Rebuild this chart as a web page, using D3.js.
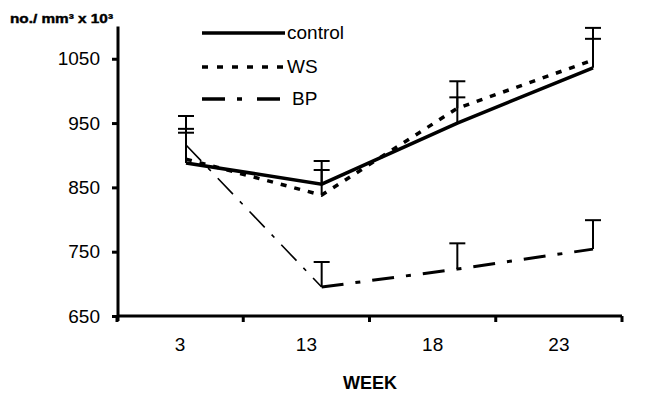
<!DOCTYPE html>
<html><head><meta charset="utf-8">
<script src="https://cdn.jsdelivr.net/npm/d3@7"></script>
<style>body{margin:0;background:#fff}svg{display:block}text{font-family:Arial,"Liberation Sans",sans-serif}</style>
</head><body>
<svg id="c" width="659" height="395"></svg>
<script>
const weeks = ["3", "13", "18", "23"];
const control = [888, 855, 950, 1036];
const controlErr = [941, 891, 990, 1081];
const ws = [894, 838, 973, 1048];
const wsErr = [935, 877, 1015, 1098];
const bp = [916, 695, 723, 754];
const bpErr = [961, 734, 763, 799];
const yTicks = [650, 750, 850, 950, 1050];

const svg = d3.select("#c");
const y = d3.scaleLinear().domain([650, 1100]).range([316, 26.6]);
const xBand = d3.scaleBand().domain(weeks).range([117, 622]);
const xPt = d3.scalePoint().domain(weeks).range([186, 593]);

// y axis
const ya = svg.append("g").attr("transform", "translate(118,0)")
  .call(d3.axisLeft(y).tickValues(yTicks).tickSize(6).tickPadding(12).tickFormat(d3.format("d")));
ya.select(".domain").attr("d", `M0,${y(1100)}V${y(650)+5}`).attr("stroke", "#000").attr("stroke-width", 3);
ya.selectAll(".tick line").attr("stroke-width", 3);
ya.selectAll(".tick text").attr("font-size", 19).attr("fill", "#000").style("font-family", "Arial, 'Liberation Sans', sans-serif");

// x axis
const xa = svg.append("g").attr("transform", `translate(0,${y(650)})`)
  .call(d3.axisBottom(xBand).tickSize(0).tickPadding(22));
xa.select(".domain").attr("d", `M${xBand.range()[0]},0H${xBand.range()[1]}`).attr("stroke", "#000").attr("stroke-width", 3);
xa.selectAll(".tick text").attr("font-size", 19).attr("fill", "#000").style("font-family", "Arial, 'Liberation Sans', sans-serif");
const bounds = weeks.map(w => xBand(w)).concat([xBand.range()[1]]);
xa.selectAll(".bt").data(bounds).enter().append("line").attr("class", "bt")
  .attr("x1", d => d).attr("x2", d => d).attr("y1", 0).attr("y2", 6)
  .attr("stroke", "#000").attr("stroke-width", 3);

svg.append("text").attr("x", 370).attr("y", 389).attr("text-anchor", "middle")
  .attr("font-size", 18).attr("font-weight", "bold").text("WEEK");
svg.append("text").attr("x", 10).attr("y", 23).attr("font-size", 12).attr("font-weight", "900")
  .attr("stroke", "#000").attr("stroke-width", 0.4)
  .attr("textLength", 103).attr("lengthAdjust", "spacingAndGlyphs").text("no./ mm³ x 10³");

// error bars
function errBars(vals, errs) {
  const g = svg.append("g").attr("stroke", "#000").attr("stroke-width", 2);
  weeks.forEach((w, i) => {
    g.append("line").attr("x1", xPt(w)).attr("x2", xPt(w)).attr("y1", y(vals[i])).attr("y2", y(errs[i]));
    g.append("line").attr("x1", xPt(w) - 8).attr("x2", xPt(w) + 8).attr("y1", y(errs[i])).attr("y2", y(errs[i]));
  });
}
errBars(control, controlErr);
errBars(ws, wsErr);
errBars(bp, bpErr);

const line = d3.line().x(d => xPt(d[0])).y(d => y(d[1]));
const pts = arr => weeks.map((w, i) => [w, arr[i]]);

svg.append("path").attr("d", line(pts(ws))).attr("fill", "none").attr("stroke", "#000")
  .attr("stroke-width", 3.5).attr("stroke-dasharray", "6,8");
svg.append("path").attr("d", line(pts(control))).attr("fill", "none").attr("stroke", "#000")
  .attr("stroke-width", 3.5);
const bpPts = pts(bp);
svg.append("path").attr("d", line(bpPts.slice(0, 2))).attr("fill", "none").attr("stroke", "#000")
  .attr("stroke-width", 1.6).attr("stroke-dasharray", "22,10,4,10");
svg.append("path").attr("d", line(bpPts.slice(1))).attr("fill", "none").attr("stroke", "#000")
  .attr("stroke-width", 3).attr("stroke-dasharray", "22,12,5,12");

// legend
const legend = [
  {name: "control", dash: null, ly: 33},
  {name: "WS", dash: "6,9", ly: 67},
  {name: "BP", dash: "23,12,5,15", ly: 99}
];
const lg = svg.append("g");
legend.forEach(l => {
  lg.append("line").attr("x1", 202).attr("x2", 285).attr("y1", l.ly).attr("y2", l.ly)
    .attr("stroke", "#000").attr("stroke-width", 3.5).attr("stroke-dasharray", l.dash);
  lg.append("text").attr("x", l.name === "BP" ? 292 : 287).attr("y", l.ly + 6).attr("font-size", 19).text(l.name);
});
</script>
</body></html>
